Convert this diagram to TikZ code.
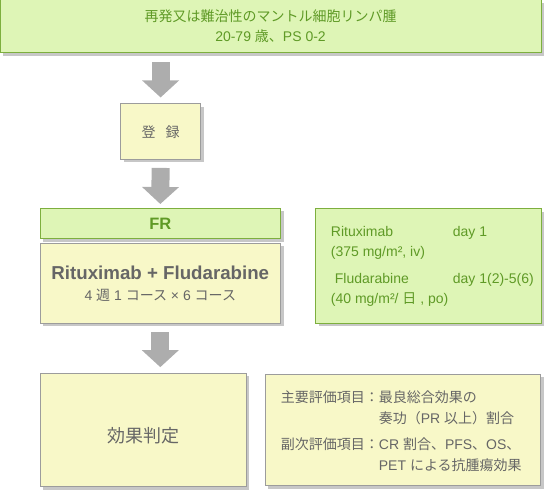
\documentclass[tikz,border=0pt]{standalone}
\usepackage{fontspec}
\setmainfont{Liberation Sans}
\newfontfamily\jp{Noto Sans CJK JP}
\usetikzlibrary{arrows.meta,shadows}
\definecolor{greenfill}{HTML}{DEF5B6}
\definecolor{greenline}{HTML}{7DAF3E}
\definecolor{greentext}{HTML}{5F9A26}
\definecolor{yellowfill}{HTML}{F8F8C8}
\definecolor{yellowline}{HTML}{9C9C9C}
\definecolor{graytext}{HTML}{666666}
\definecolor{arrowgray}{HTML}{ADADAD}
\begin{document}
\begin{tikzpicture}[x=1pt, y=-1pt,
  boxshadow/.style = {drop shadow={shadow xshift=3pt, shadow yshift=-3pt, fill=black!22, opacity=1}},
  greenbox/.style = {draw=greenline, fill=greenfill, line width=1pt, inner sep=0pt, boxshadow, text=greentext},
  yellowbox/.style = {draw=yellowline, fill=yellowfill, line width=1pt, inner sep=0pt, boxshadow, text=graytext},
  bigarrow/.style = {draw=arrowgray, line width=18pt, -{Triangle[width=36pt, length=17pt, fill=arrowgray]}}]
\useasboundingbox (0,0) rectangle (544,492);

% boxes
\node[greenbox, minimum width=541pt, minimum height=53pt, align=center,
      font=\fontsize{14}{20}\selectfont] (top) at (270.5,26.5)
  {{\jp 再発又は難治性のマントル細胞リンパ腫}\\20-79 {\jp 歳、}PS 0-2};
\node[yellowbox, minimum width=80pt, minimum height=55.5pt,
      font=\fontsize{14}{17}\selectfont\jp] (reg) at (160.6,131.7) {登\hspace{10pt}録};
\node[greenbox, minimum width=240.5pt, minimum height=30pt,
      font=\fontsize{16.5}{19}\selectfont\bfseries] (fr) at (160.3,223.5) {FR};
\node[yellowbox, minimum width=240.5pt, minimum height=80pt, align=center,
      font=\fontsize{14}{21}\selectfont] (drug) at (160.3,283.4)
  {{\fontsize{18.7}{21}\selectfont\bfseries Rituximab + Fludarabine}\\
   4 {\jp 週} 1 {\jp コース} × 6 {\jp コース}};
\node[greenbox, minimum width=226pt, minimum height=114pt] (dose) at (428.5,266) {};
\node[yellowbox, minimum width=206pt, minimum height=113.5pt] (eval) at (143,430.2) {};
\node[yellowbox, minimum width=275.5pt, minimum height=111.5pt] (endpt) at (402.8,430.2) {};

% texts
\node[anchor=west, inner sep=0pt, text=greentext, font=\fontsize{14}{20.5}\selectfont] (dosetext) at (330.7,266)
  {\begin{tabular}{@{}p{122pt}@{}l@{}}
   Rituximab & day 1\\
   (375 mg/m², iv) & \\[6pt]
   \hspace{4pt}Fludarabine & day 1(2)-5(6)\\
   (40 mg/m²/ {\jp 日} , po) &
   \end{tabular}};
\node[inner sep=0pt, text=graytext, font=\fontsize{18}{22}\selectfont\jp] (evaltext) at (143,435.5) {効果判定};
\node[anchor=west, inner sep=0pt, text=graytext, font=\fontsize{14}{20.5}\selectfont] (endpttext) at (280.7,432.5)
  {\begin{tabular}{@{}l@{}l@{}}
   {\jp 主要評価項目：} & {\jp 最良総合効果の}\\
   & {\jp 奏功（}PR {\jp 以上）割合}\\[6pt]
   {\jp 副次評価項目：} & CR {\jp 割合、}PFS{\jp 、}OS{\jp 、}\\
   & PET {\jp による抗腫瘍効果}
   \end{tabular}};

% arrows
\draw[bigarrow] (reg.north |- top.south) ++(0,9) -- ([yshift=6pt]reg.north);
\draw[bigarrow] ([yshift=-8pt]reg.south) -- ([yshift=4pt]fr.north);
\draw[bigarrow] ([yshift=-8.4pt]drug.south) -- ([yshift=5.8pt]drug.south |- eval.north);

\end{tikzpicture}
\end{document}
